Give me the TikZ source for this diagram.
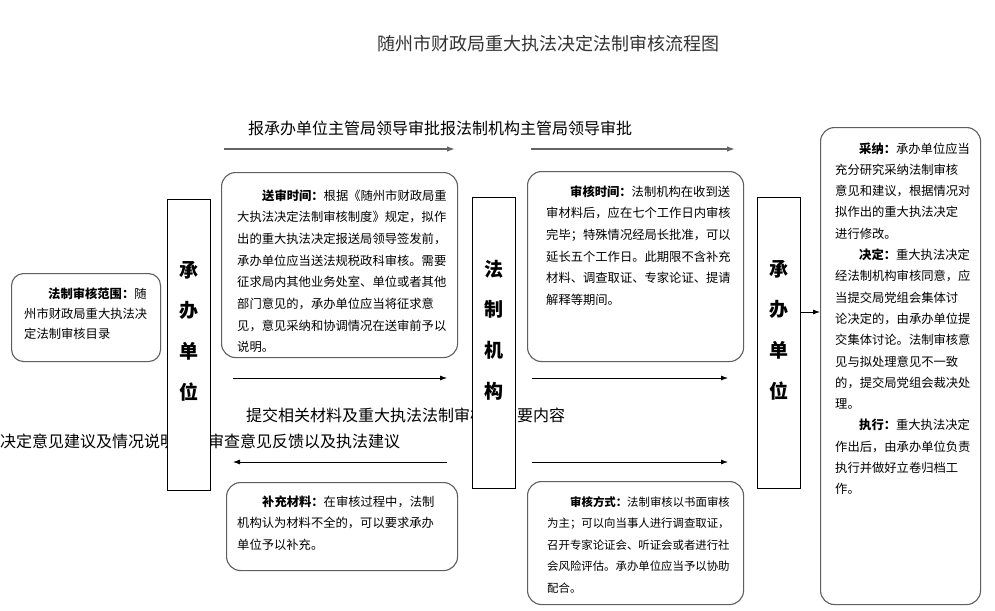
\documentclass[tikz,border=0pt]{standalone}
\usepackage{fontspec}
\setmainfont{Noto Sans CJK SC}
\usetikzlibrary{arrows.meta}
\definecolor{boxgray}{RGB}{95,95,95}
\definecolor{arrgray}{RGB}{100,100,100}
\begin{document}
\begin{tikzpicture}[x=1pt,y=-1pt,
  rbox/.style={draw=boxgray, line width=1.1pt, rounded corners=14pt, fill=white, inner sep=0pt, anchor=north west},
  vbox/.style={draw=black, line width=0.8pt, fill=white, inner sep=0pt, anchor=north west},
  vtxt/.style={inner sep=0pt, align=center, font=\fontsize{19}{40.7}\selectfont\bfseries},
  para/.style={anchor=base west, inner sep=0pt, align=left, text width=260pt, font=\fontsize{12.3}{21.7}\selectfont},
  flowtxt/.style={anchor=base west, inner sep=0pt, font=\fontsize{16}{18}\selectfont},
  grayarr/.style={draw=arrgray, line width=1.3pt, -{Latex[length=8pt,width=5.5pt]}},
  blkarr/.style={draw=black, line width=0.8pt, -{Latex[length=7pt,width=5pt]}}
]
\useasboundingbox (0,0) rectangle (995,610);
\fill[white] (0,0) rectangle (995,610);

% title
\node[inner sep=0pt, font=\fontsize{18}{20}\selectfont, text=black!80] (title) at (548,44) {随州市财政局重大执法决定法制审核流程图};

% top label and arrows
\node[flowtxt] (toptxt) at (248,134) {报承办单位主管局领导审批报法制机构主管局领导审批};
\coordinate (ta1s) at (224,149); \coordinate (ta1e) at (455,149);
\coordinate (ta2s) at (531,149); \coordinate (ta2e) at (735,149);
\draw[grayarr] (ta1s) -- (ta1e);
\draw[grayarr] (ta2s) -- (ta2e);

% middle texts (drawn before the vertical boxes, which cover parts of them)
\node[flowtxt] (midtxt1) at (246,421) {提交相关材料及重大执法法制审核};
\node[flowtxt] (midtxt1b) at (517,421) {要内容};
\node[flowtxt] (midtxt2) at (0,447) {决定意见建议及情况说明};
\node[flowtxt] (midtxt2b) at (208,447) {审查意见反馈以及执法建议};

% middle arrows
\coordinate (ma1s) at (233,378); \coordinate (ma1e) at (447,378);
\coordinate (ma2s) at (532,378); \coordinate (ma2e) at (728,378);
\draw[blkarr] (ma1s) -- (ma1e);
\draw[blkarr] (ma2s) -- (ma2e);
\coordinate (la1s) at (447,462); \coordinate (la1e) at (233,462);
\coordinate (la2s) at (532,462); \coordinate (la2e) at (728,462);
\draw[blkarr] (la1s) -- (la1e);
\draw[blkarr] (la2s) -- (la2e);

% left scope box
\node[rbox, rounded corners=12pt, minimum width=149pt, minimum height=88pt] (scope) at (11,273) {};
\node[para, font=\fontsize{12.3}{20}\selectfont] (scopet) at (24,298) {\hspace*{24pt}\textbf{法制审核范围：}随\\州市财政局重大执法决\\定法制审核目录};

% vertical boxes
\node[vbox, minimum width=43pt, minimum height=291pt] (cb1) at (167,199) {};
\node[vtxt] (cb1t) at (188.5,331) {承\\办\\单\\位};
\node[vbox, minimum width=43pt, minimum height=291pt] (fz) at (472,197) {};
\node[vtxt] (fzt) at (493.5,330) {法\\制\\机\\构};
\node[vbox, minimum width=43pt, minimum height=291pt] (cb2) at (757,197) {};
\node[vtxt] (cb2t) at (778.5,330) {承\\办\\单\\位};

% submission time box
\node[rbox, minimum width=236pt, minimum height=185pt] (ss) at (221,172) {};
\node[para] (sst) at (237,200) {\hspace*{25pt}\textbf{送审时间：}根据《随州市财政局重\\大执法决定法制审核制度》规定，拟作\\出的重大执法决定报送局领导签发前，\\承办单位应当送法规税政科审核。需要\\征求局内其他业务处室、单位或者其他\\部门意见的，承办单位应当将征求意\\见，意见采纳和协调情况在送审前予以\\说明。};

% review time box
\node[rbox, minimum width=216pt, minimum height=190pt] (sh) at (527,171) {};
\node[para] (sht) at (546,196) {\hspace*{24pt}\textbf{审核时间：}法制机构在收到送\\审材料后，应在七个工作日内审核\\完毕；特殊情况经局长批准，可以\\延长五个工作日。此期限不含补充\\材料、调查取证、专家论证、提请\\解释等期间。};

% right box
\node[rbox, minimum width=160pt, minimum height=477pt] (rb) at (820,127) {};
\node[para, font=\fontsize{12.3}{21.3}\selectfont] (rbt) at (835,153) {\hspace*{24pt}\textbf{采纳：}承办单位应当\\充分研究采纳法制审核\\意见和建议，根据情况对\\拟作出的重大执法决定\\进行修改。\\\hspace*{24pt}\textbf{决定：}重大执法决定\\经法制机构审核同意，应\\当提交局党组会集体讨\\论决定的，由承办单位提\\交集体讨论。法制审核意\\见与拟处理意见不一致\\的，提交局党组会裁决处\\理。\\\hspace*{24pt}\textbf{执行：}重大执法决定\\作出后，由承办单位负责\\执行并做好立卷归档工\\作。};

% supplement box
\node[rbox, minimum width=231pt, minimum height=88pt] (bc) at (226,482) {};
\node[para] (bct) at (237,506) {\hspace*{25pt}\textbf{补充材料：}在审核过程中，法制\\机构认为材料不全的，可以要求承办\\单位予以补充。};

% review method box
\node[rbox, minimum width=216pt, minimum height=123pt] (fs) at (527,481) {};
\node[para, font=\fontsize{11.4}{21.5}\selectfont] (fst) at (547,506) {\hspace*{23pt}\textbf{审核方式：}法制审核以书面审核\\为主；可以向当事人进行调查取证，\\召开专家论证会、听证会或者进行社\\会风险评估。承办单位应当予以协助\\配合。};

% arrow to right box
\draw[blkarr] (cb2.east |- 0,312) -- (rb.west |- 0,312);
\end{tikzpicture}
\end{document}
